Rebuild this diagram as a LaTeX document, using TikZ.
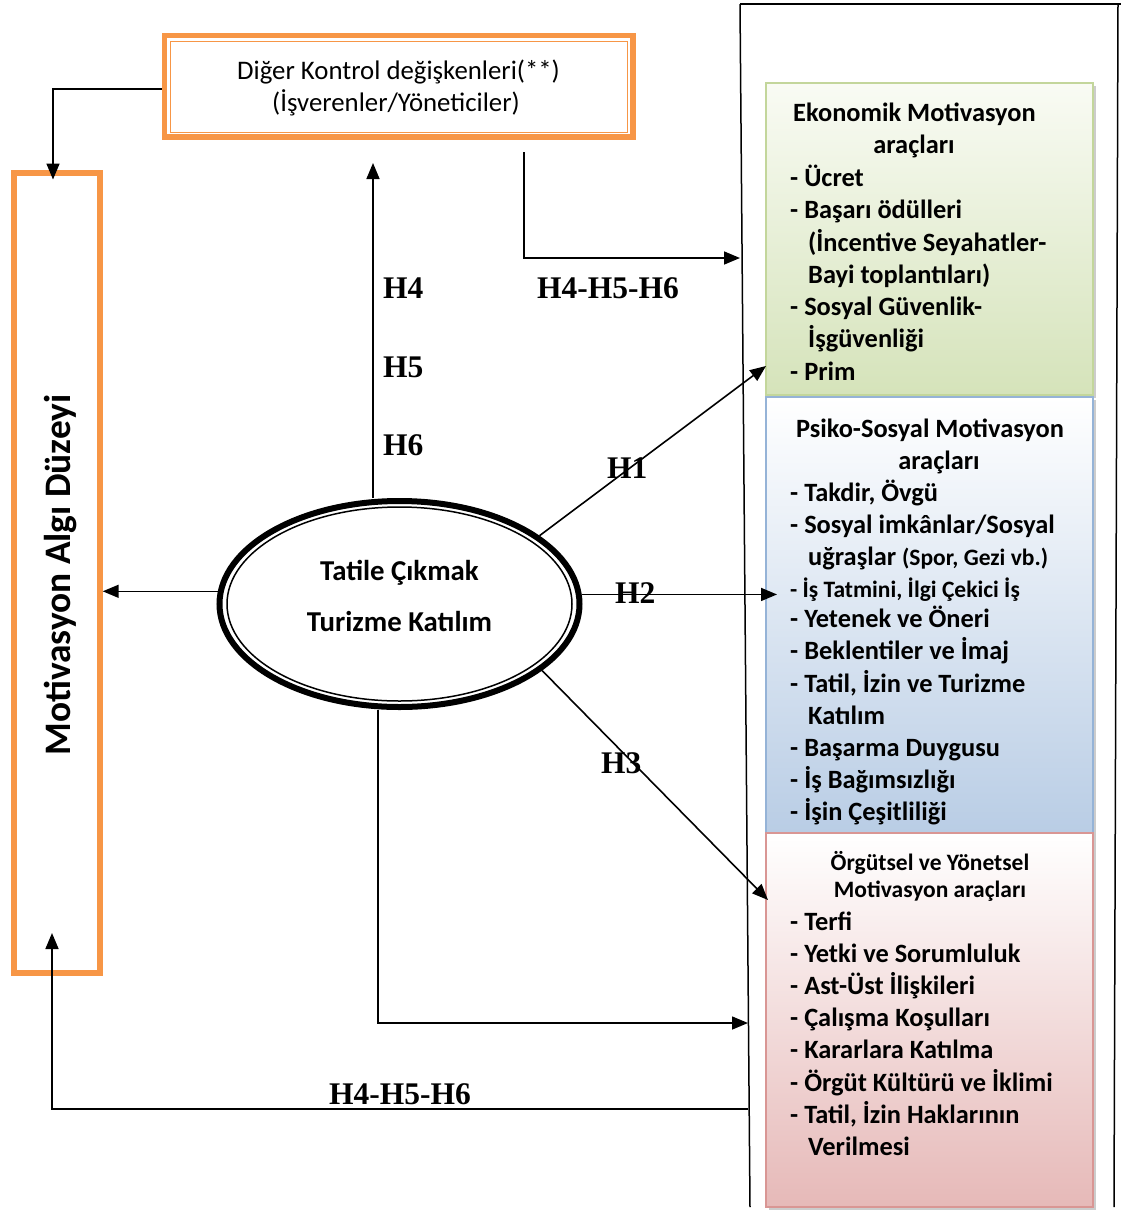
\documentclass[tikz,border=0pt]{standalone}
\usepackage{fontspec}
\newfontfamily\calfont{Carlito}
\newfontfamily\timesfont{Liberation Serif}
\usetikzlibrary{arrows.meta,shapes.geometric,shadows}
\definecolor{orng}{HTML}{F79646}
\definecolor{grnB}{HTML}{D5E3BA}
\definecolor{grnT}{HTML}{F9FBF4}
\definecolor{grnD}{HTML}{C3D69B}
\definecolor{bluB}{HTML}{B9CDE5}
\definecolor{bluD}{HTML}{95B3D7}
\definecolor{pnkB}{HTML}{E6B9B8}
\definecolor{pnkD}{HTML}{D99694}
\tikzset{
  item/.style={anchor=base west, inner sep=0pt, font=\calfont\bfseries\fontsize{26.4}{30}\selectfont},
  itemsm/.style={anchor=base west, inner sep=0pt, font=\calfont\bfseries\fontsize{23.5}{27}\selectfont},
  head/.style={anchor=base, inner sep=0pt, font=\calfont\bfseries\fontsize{26.4}{30}\selectfont},
  headsm/.style={anchor=base, inner sep=0pt, font=\calfont\bfseries\fontsize{23.5}{27}\selectfont},
  reg/.style={anchor=base, inner sep=0pt, font=\calfont\fontsize{26.8}{30}\selectfont},
  elltxt/.style={anchor=base, inner sep=0pt, font=\calfont\bfseries\fontsize{28.8}{32}\selectfont},
  hlab/.style={anchor=base west, inner sep=0pt, font=\timesfont\bfseries\fontsize{31.5}{35}\selectfont},
  arr/.style={line width=1.6pt, -{Triangle[length=16pt,width=13pt]}},
  conn/.style={line width=1.6pt},
  frame/.style={line width=1.5pt},
  motbox/.style={draw, line width=1.5pt, inner sep=0pt, minimum width=327pt,
     drop shadow={shadow xshift=3pt, shadow yshift=-3pt, fill=black!40}},
}
\begin{document}
\begin{tikzpicture}[x=1pt,y=-1pt]
\useasboundingbox (0,0) rectangle (1121,1211);
% right frame
\draw[frame] (740,4) -- (1121,4);
\draw[frame] (740,4) -- (750,1207);
\draw[frame] (1118,4) -- (1114,1207);
% right boxes
\node[motbox, draw=grnD, top color=grnT, bottom color=grnB, minimum height=312pt] (gb) at (929.5,239) {};
\node[motbox, draw=bluD, top color=white, bottom color=bluB, minimum height=436pt] (bb) at (929.5,615) {};
\node[motbox, draw=pnkD, top color=white, bottom color=pnkB, minimum height=374pt] (pb) at (929.5,1020) {};
% green text
\node[head] (g0) at (914.5,121) {Ekonomik Motivasyon};
\node[head] (g1) at (914,153) {araçları};
\node[item] (g2) at (790,186.5) {- Ücret};
\node[item] (g3) at (790,218.5) {- Başarı ödülleri};
\node[item] (g4) at (808,251) {(İncentive Seyahatler-};
\node[item] (g5) at (808,283) {Bayi toplantıları)};
\node[item] (g6) at (790,315.5) {- Sosyal Güvenlik-};
\node[item] (g7) at (808,347.5) {İşgüvenliği};
\node[item] (g8) at (790,380) {- Prim};
% blue text
\node[head] (b0) at (930,437) {Psiko-Sosyal Motivasyon};
\node[head] (b1) at (939,469) {araçları};
\node[item] (b2) at (790,501) {- Takdir, Övgü};
\node[item] (b3) at (790,533) {- Sosyal imkânlar/Sosyal};
\node[item] (b4) at (808,565) {uğraşlar {\fontsize{23.5}{27}\selectfont(Spor, Gezi vb.)}};
\node[itemsm] (b5) at (790,597) {- İş Tatmini, İlgi Çekici İş};
\node[item] (b6) at (790,627.5) {- Yetenek ve Öneri};
\node[item] (b7) at (790,659.5) {- Beklentiler ve İmaj};
\node[item] (b8) at (790,692) {- Tatil, İzin ve Turizme};
\node[item] (b9) at (808,724) {Katılım};
\node[item] (b10) at (790,756.5) {- Başarma Duygusu};
\node[item] (b11) at (790,788.5) {- İş Bağımsızlığı};
\node[item] (b12) at (790,820.5) {- İşin Çeşitliliği};
% pink text
\node[headsm] (p0) at (930,870) {Örgütsel ve Yönetsel};
\node[headsm] (p1) at (930,897.5) {Motivasyon araçları};
\node[item] (p2) at (790,930) {- Terfi};
\node[item] (p3) at (790,962) {- Yetki ve Sorumluluk};
\node[item] (p4) at (790,994) {- Ast-Üst İlişkileri};
\node[item] (p5) at (790,1026) {- Çalışma Koşulları};
\node[item] (p6) at (790,1058.5) {- Kararlara Katılma};
\node[item] (p7) at (790,1091) {- Örgüt Kültürü ve İklimi};
\node[item] (p8) at (790,1123) {- Tatil, İzin Haklarının};
\node[item] (p9) at (808,1155) {Verilmesi};
% top box
\node[draw=orng, line width=5.5pt, minimum width=468.5pt, minimum height=101.5pt, inner sep=0pt] (tb) at (398.75,86.25) {};
\draw[orng, line width=1pt] (170,41) rectangle (627,132);
\node[reg] (tb1) at (398.5,79.5) {Diğer Kontrol değişkenleri(**)};
\node[reg] (tb2) at (396,111.5) {(İşverenler/Yöneticiler)};
% left box
\node[draw=orng, line width=6pt, minimum width=86pt, minimum height=800.5pt, inner sep=0pt] (lb) at (56.7,572.75) {};
\node[anchor=base, inner sep=0pt, rotate=90, font=\calfont\bfseries\fontsize{37.4}{41}\selectfont] (lbt) at (70.5,575) {Motivasyon Algı Düzeyi};
% ellipse
\node[ellipse, draw, line width=6pt, minimum width=360pt, minimum height=206pt, inner sep=0pt, fill=white] (e) at (399.5,604) {};
\draw[line width=1.5pt] (e.center) ellipse [x radius=172.5, y radius=97];
\node[elltxt] (e1) at (399.5,580) {Tatile Çıkmak};
\node[elltxt] (e2) at (399.5,631.7) {Turizme Katılım};
% coordinates
\coordinate (h456) at (373,163);
\coordinate (s4) at (524,152);
\coordinate (t4) at (740,258);
\coordinate (t1) at (766,366);
\coordinate (t2) at (777,594);
\coordinate (t3) at (768,900);
\coordinate (b1c) at (378,1023);
\coordinate (b2c) at (748,1023);
\coordinate (s6) at (748,1109);
\coordinate (t6) at (52,933);
% connectors
\draw[arr] (tb.west |- 0,89) -| ([xshift=-3.7pt,yshift=-10pt]lb.north);
\draw[arr] (h456 |- e.north) -- (h456);
\draw[arr] (s4) |- (t4);
\draw[arr] (e.26.5) -- (t1);
\draw[arr] (e.3.2) -- (e.3.2 -| t2);
\draw[arr] (e.-25) -- (t3);
\draw[arr] (e.176.8) -- (e.176.8 -| lb.east);
\draw[arr] (b1c |- e.south) -- (b1c) -- (b2c);
\draw[arr] (s6) -| (t6);
% labels
\node[hlab] (l4) at (383,298) {H4};
\node[hlab] (l5) at (383,377) {H5};
\node[hlab] (l6) at (383,455) {H6};
\node[hlab] (l456a) at (537,298) {H4-H5-H6};
\node[hlab] (l1) at (607,478) {H1};
\node[hlab] (l2) at (615,603) {H2};
\node[hlab] (l3) at (601,773) {H3};
\node[hlab] (l456b) at (329,1104) {H4-H5-H6};
\end{tikzpicture}
\end{document}
